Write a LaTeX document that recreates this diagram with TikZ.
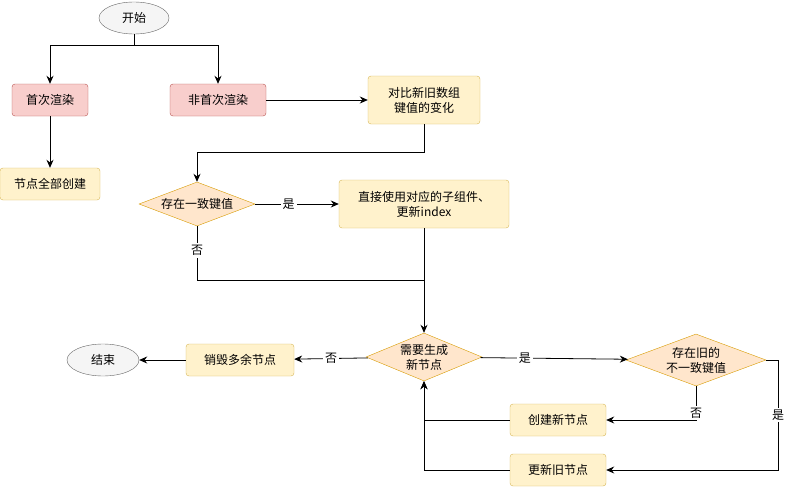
\documentclass[tikz,border=0pt]{standalone}
\usepackage{fontspec}
\setmainfont{Noto Sans CJK SC}
\usetikzlibrary{shapes.geometric,arrows.meta}
\definecolor{redfill}{HTML}{F8CECC}
\definecolor{redline}{HTML}{B85450}
\definecolor{yelfill}{HTML}{FFF2CC}
\definecolor{yelline}{HTML}{D6B656}
\definecolor{orfill}{HTML}{FFE6CC}
\definecolor{orline}{HTML}{D79B00}
\begin{document}
\begin{tikzpicture}[x=1pt,y=-1pt,font=\fontsize{12}{15}\selectfont]
    \tikzstyle{every node}+=[inner sep=0pt, align=center]
    \tikzstyle{term}=[ellipse, draw=black!60, fill=black!4, minimum width=70pt, minimum height=32pt]
    \tikzstyle{redbox}=[rectangle, rounded corners=3pt, draw=redline, fill=redfill, minimum height=32pt]
    \tikzstyle{box}=[rectangle, rounded corners=3pt, draw=yelline, fill=yelfill, minimum height=32pt]
    \tikzstyle{choice}=[diamond, aspect=2.5, draw=orline, fill=orfill]
    \tikzstyle{flow}=[draw, -{Stealth[length=8pt,width=7pt]}, thick]
    \useasboundingbox (0,0) rectangle (800,487);
    % nodes
    \node [term] (start) at (134,18) {开始};
    \node [redbox, minimum width=76pt] (first) at (50,100) {首次渲染};
    \node [redbox, minimum width=96pt] (notfirst) at (218,100) {非首次渲染};
    \node [box, minimum width=112pt, minimum height=48pt] (compare) at (424,100) {对比新旧数组\\键值的变化};
    \node [box, minimum width=100pt] (createall) at (50,184) {节点全部创建};
    \node [choice, minimum width=116pt, minimum height=44pt] (samekey) at (197,204) {存在一致键值};
    \node [box, minimum width=170pt, minimum height=48pt] (reuse) at (424,204) {直接使用对应的子组件、\\更新index};
    \node [choice, minimum width=116pt, minimum height=48pt] (neednew) at (424,357) {需要生成\\新节点};
    \node [choice, minimum width=140pt, minimum height=52pt] (oldkey) at (696,360) {存在旧的\\不一致键值};
    \node [box, minimum width=108pt] (destroy) at (240,360) {销毁多余节点};
    \node [term, minimum width=72pt] (end) at (103,360) {结束};
    \node [box, minimum width=96pt] (create) at (558,420) {创建新节点};
    \node [box, minimum width=96pt] (update) at (558,470) {更新旧节点};
    % connectors
    \draw [flow] (start.south) -- (134,45) -| (first.north);
    \draw [flow] (start.south) -- (134,45) -| (notfirst.north);
    \draw [flow] (first) -- (createall);
    \draw [flow] (notfirst) -- (compare);
    \draw [flow] (compare.south) -- (424,152) -| (samekey.north);
    \draw [flow] (samekey) -- node [fill=white, inner sep=2pt, pos=0.4] {是} (reuse);
    \draw [thick] (samekey.south) -- node [fill=white, inner sep=2pt, pos=0.45] {否} (197,280) -- (424,280);
    \draw [flow] (reuse) -- (neednew);
    \draw [flow] (neednew) -- node [fill=white, inner sep=2pt, pos=0.3] {是} (oldkey);
    \draw [flow] (neednew) -- node [fill=white, inner sep=2pt] {否} (destroy);
    \draw [flow] (destroy) -- (end);
    \draw [flow] (oldkey.south) |- node [fill=white, inner sep=2pt, pos=0.4] {否} (create.east);
    \draw [flow] (oldkey.east) -- (778,360) |- node [fill=white, inner sep=2pt, pos=0.25] {是} (update.east);
    \draw [flow] (create.west) -| (neednew.south);
    \draw [flow] (update.west) -| (neednew.south);
\end{tikzpicture}
\end{document}
